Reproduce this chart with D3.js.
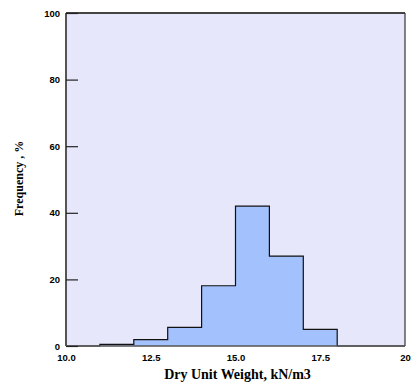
<!DOCTYPE html>
<html lang="en">
<head>
    <meta charset="UTF-8">
    <title>Dry Unit Weight histogram</title>
    <script src="https://d3js.org/d3.v7.min.js"></script>
    <style>
        html, body {
            margin: 0;
            padding: 0;
            background: white;
        }
    </style>
</head>
<body>
    <div class="content"></div>
    <script>
        // bin edges and frequency (%) per bin
        const binEdges = [10, 11, 12, 13, 14, 15, 16, 17, 18, 19, 20];
        const freq = [0, 0.5, 1.9, 5.6, 18.1, 42, 27, 5, 0, 0];
        const xTicks = [10, 12.5, 15, 17.5, 20];
        const xTickLabels = ["10.0", "12.5", "15.0", "17.5", "20"];
        const yTicks = [0, 20, 40, 60, 80, 100];

        const w = 411;
        const h = 383;
        const margin = { top: 13, right: 6, bottom: 37, left: 66 };

        const svg = d3.select(".content")
            .append("svg")
            .attr("width", w)
            .attr("height", h);

        const x = d3.scaleLinear()
            .domain([10, 20])
            .range([margin.left, w - margin.right]);

        const y = d3.scaleLinear()
            .domain([0, 100])
            .range([h - margin.bottom, margin.top]);

        // plot background
        svg.append("rect")
            .attr("x", x(10))
            .attr("y", y(100))
            .attr("width", x(20) - x(10))
            .attr("height", y(0) - y(100))
            .attr("fill", "#e7e7fb");

        // step outline of the histogram
        const pts = [];
        freq.forEach((f, i) => {
            pts.push([binEdges[i], f]);
            pts.push([binEdges[i + 1], f]);
        });

        const area = d3.area()
            .x(d => x(d[0]))
            .y0(y(0))
            .y1(d => y(d[1]));

        svg.append("path")
            .datum(pts)
            .attr("d", area)
            .attr("fill", "#a3c1fd");

        const line = d3.line()
            .x(d => x(d[0]))
            .y(d => y(d[1]));

        svg.append("path")
            .datum(pts)
            .attr("d", line)
            .attr("fill", "none")
            .attr("stroke", "#111")
            .attr("stroke-width", 1.2);

        // frame
        svg.append("line")
            .attr("x1", x(10)).attr("x2", x(20))
            .attr("y1", y(100)).attr("y2", y(100))
            .attr("stroke", "#444").attr("stroke-width", 2);
        svg.append("line")
            .attr("x1", x(20)).attr("x2", x(20))
            .attr("y1", y(100)).attr("y2", y(0))
            .attr("stroke", "#333").attr("stroke-width", 1.2);
        svg.append("line")
            .attr("x1", x(10)).attr("x2", x(20))
            .attr("y1", y(0)).attr("y2", y(0))
            .attr("stroke", "#555").attr("stroke-width", 1.5);
        svg.append("line")
            .attr("x1", x(10)).attr("x2", x(10))
            .attr("y1", y(100)).attr("y2", y(0))
            .attr("stroke", "#555").attr("stroke-width", 2);

        // y axis: ticks pointing inwards
        const yAxis = d3.axisLeft(y)
            .tickValues(yTicks)
            .tickSizeInner(-12)
            .tickSizeOuter(0)
            .tickPadding(6);

        const gy = svg.append("g")
            .attr("transform", `translate(${x(10)},0)`)
            .call(yAxis);
        gy.select(".domain").remove();
        gy.selectAll(".tick line").attr("stroke", "#222").attr("stroke-width", 1.2);
        gy.selectAll("text")
            .attr("font-family", "'Liberation Sans', Arial, sans-serif")
            .attr("font-weight", "bold")
            .attr("font-size", "9.5px")
            .attr("fill", "#000");

        // x axis
        const xAxis = d3.axisBottom(x)
            .tickValues(xTicks)
            .tickFormat((d, i) => xTickLabels[i])
            .tickSize(0)
            .tickPadding(8);

        const gx = svg.append("g")
            .attr("transform", `translate(0,${y(0)})`)
            .call(xAxis);
        gx.select(".domain").remove();
        gx.selectAll("text")
            .attr("font-family", "'Liberation Sans', Arial, sans-serif")
            .attr("font-weight", "bold")
            .attr("font-size", "9.5px")
            .attr("fill", "#000");

        // axis titles
        svg.append("text")
            .attr("x", (x(10) + x(20)) / 2 + 2)
            .attr("y", 379)
            .attr("text-anchor", "middle")
            .attr("font-family", "'Liberation Serif', 'Times New Roman', serif")
            .attr("font-weight", "bold")
            .attr("font-size", "14px")
            .text("Dry Unit Weight, kN/m3");

        svg.append("text")
            .attr("transform", `translate(23,${(y(0) + y(100)) / 2 - 1}) rotate(-90)`)
            .attr("text-anchor", "middle")
            .attr("font-family", "'Liberation Serif', 'Times New Roman', serif")
            .attr("font-weight", "bold")
            .attr("font-size", "12px")
            .text("Frequency , %");
    </script>
</body>
</html>
